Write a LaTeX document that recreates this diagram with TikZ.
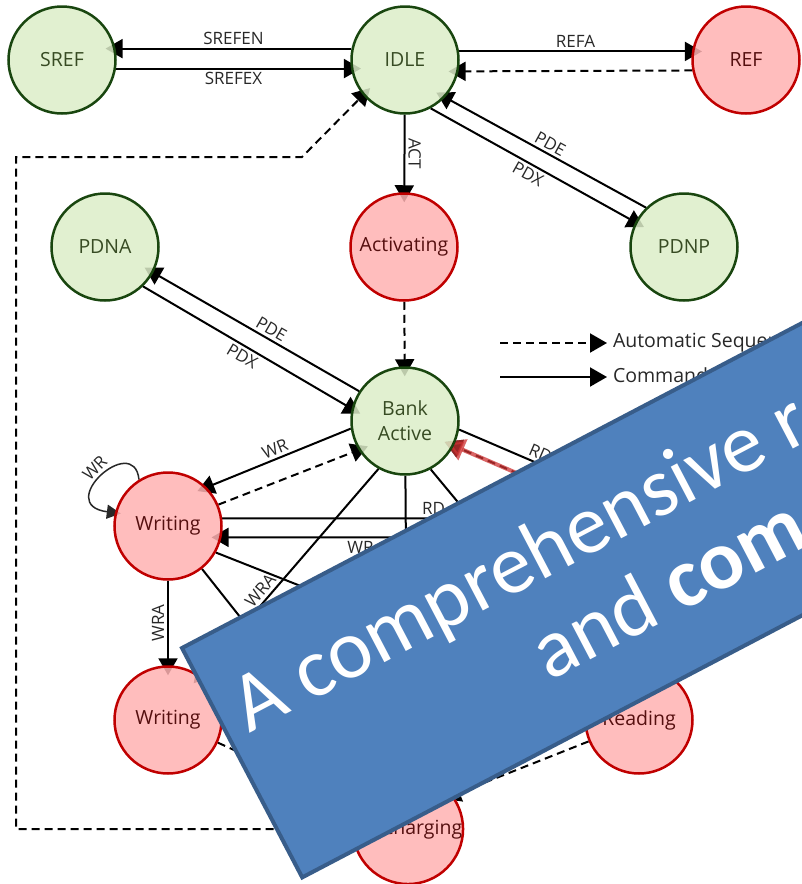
\documentclass[tikz,border=0pt]{standalone}
\usepackage{fontspec}
\setmainfont{Open Sans}
\newfontfamily\bannerfont{Carlito}
\usetikzlibrary{arrows.meta}
\definecolor{greenfill}{RGB}{220,237,200}
\definecolor{greenline}{RGB}{25,70,15}
\definecolor{greentext}{RGB}{55,75,35}
\definecolor{redfill}{RGB}{255,178,178}
\definecolor{redline}{RGB}{192,0,0}
\definecolor{redtext}{RGB}{85,15,15}
\definecolor{labelgray}{RGB}{40,40,40}
\definecolor{hilite}{RGB}{205,50,50}
\definecolor{bannerblue}{RGB}{79,129,189}
\definecolor{bannerline}{RGB}{56,93,138}
\pgfdeclarelayer{edges}
\pgfsetlayers{edges,main}
\newcommand{\statefont}{\fontsize{19.5pt}{25pt}\selectfont}
\newcommand{\cmdfont}{\fontsize{17pt}{19pt}\selectfont}
\newcommand{\keyfont}{\fontsize{19.5pt}{22pt}\selectfont}
\newcommand{\bannersize}{\bannerfont\fontsize{84pt}{92pt}\selectfont}

\begin{document}
\begin{tikzpicture}[x=1pt,y=-1pt,
  state/.style={circle,minimum size=107pt,inner sep=0pt,line width=2.5pt,
    font=\statefont,align=center,fill opacity=0.85,text opacity=1},
  greenstate/.style={state,draw=greenline,fill=greenfill,text=greentext},
  redstate/.style={state,draw=redline,fill=redfill,text=redtext},
  cmd/.style={line width=2pt,-{Triangle[length=17pt,width=19pt]},shorten >=-10pt},
  autoseq/.style={cmd,dash pattern=on 8pt off 5pt},
  lbl/.style={font=\cmdfont,text=labelgray,inner sep=3pt}]
\useasboundingbox (0,0) rectangle (802,884);
\clip (0,0) rectangle (802,884);

% states
\node[greenstate] (SREF) at (62,60) {SREF};
\node[greenstate] (IDLE) at (405,60) {IDLE};
\node[redstate] (REF) at (746,60) {REF};
\node[greenstate] (PDNA) at (105,247) {PDNA};
\node[redstate] (ACTV) at (404,247) {Activating};
\node[greenstate] (PDNP) at (684,247) {PDNP};
\node[greenstate] (BANK) at (405,421) {Bank\\Active};
\node[redstate] (WR) at (168,526) {Writing};
\node[redstate] (WRA) at (168,720) {Writing};
\node[redstate] (RDA) at (639,720) {Reading};
\node[redstate] (PRE) at (408,829) {Precharging};
\node[circle,minimum size=107pt] (RD) at (640,526) {}; % lies under the banner

% transitions, below the states
\begin{pgfonlayer}{edges}
\draw[cmd] (IDLE.168) -- (SREF.12) node[lbl,midway,above]{SREFEN};
\draw[cmd] (SREF.-9) -- (IDLE.189) node[lbl,midway,below]{SREFEX};
\draw[cmd] (IDLE.9) -- (REF.171) node[lbl,midway,above]{REFA};
\draw[autoseq] (REF.191) -- (IDLE.-12);
\draw[cmd] (IDLE) -- (ACTV) node[lbl,midway,rotate=-90,above]{ACT};
\draw[cmd] (PDNP.134) -- (IDLE.-43) node[lbl,midway,sloped,above]{PDE};
\draw[cmd] (IDLE.-62) -- (PDNP.153) node[lbl,midway,sloped,below]{PDX};
\draw[cmd] (BANK.147) -- (PDNA.-28) node[lbl,pos=0.45,sloped,above]{PDE};
\draw[cmd] (PDNA.-46) -- (BANK.167) node[lbl,midway,sloped,below]{PDX};
\draw[autoseq] (ACTV) -- (BANK);
\draw[autoseq] (PRE.west) -| (16,157) -- (302,157) -- (IDLE.220);

\draw[cmd] (BANK.188) -- (WR.45) node[lbl,midway,sloped,above]{WR};
\draw[autoseq] (WR.23) -- (BANK.212);
\draw[line width=1.5pt,draw=labelgray,-{Triangle[length=14pt,width=14pt]},shorten >=-6pt]
  (WR.122) .. controls +(-5,-48) and +(-62,-8) .. (WR.166)
  node[lbl,pos=0.5,sloped,above]{WR};
\draw[cmd] (WR.8) -- (RD.172) node[lbl,pos=0.58,above]{RD};
\draw[cmd] (RD.-168) -- (WR.-12) node[lbl,pos=0.62,below]{WR};
\draw[cmd] (BANK) -- (PRE);
\draw[cmd] (BANK.241) -- (WRA.54) node[lbl,pos=0.62,sloped,above]{WRA};
\draw[cmd] (WR) -- (WRA) node[lbl,midway,rotate=90,above]{WRA};
\draw[cmd] (WR.-29) -- (RDA.158);
\draw[cmd] (WR) -- (PRE);
\draw[cmd] (BANK.-62) -- (RDA.130);
\draw[cmd] (BANK.-9) -- (RD.138) node[lbl,pos=0.55,sloped,above]{RD};
\draw[autoseq] (RD.157) -- (BANK.-27);
\draw[draw=hilite,line width=4pt,opacity=0.75,
  -{Triangle[length=20pt,width=22pt]},shorten >=-10pt] (RD.157) -- (BANK.-27);
\draw[autoseq] (RDA.203) -- (PRE.37);
\draw[autoseq] (WRA) -- (PRE);
\end{pgfonlayer}

% key
\coordinate (keyA) at (500,343);
\coordinate (keyB) at (607,343);
\coordinate (keyC) at (500,377);
\coordinate (keyD) at (607,377);
\draw[autoseq,shorten >=0pt] (keyA) -- (keyB)
  node[right,font=\keyfont,text=labelgray,inner sep=5pt]{Automatic Sequence};
\draw[cmd,shorten >=0pt] (keyC) -- (keyD)
  node[right,font=\keyfont,text=labelgray,inner sep=5pt]{Command Sequence};

% banner on top
\begin{scope}[shift={(182,648)},rotate=27.66,transform shape]
\filldraw[fill=bannerblue,draw=bannerline,line width=4pt] (0,0) rectangle (1000,259);
\node[anchor=base west,text=white,font=\bannersize,inner sep=0pt] (bantop) at (20,107) {A comprehensive r};
\node[anchor=base west,text=white,font=\bannersize,inner sep=0pt] (banlow) at (310,200) {and \textbf{com}};
\end{scope}
\end{tikzpicture}
\end{document}
